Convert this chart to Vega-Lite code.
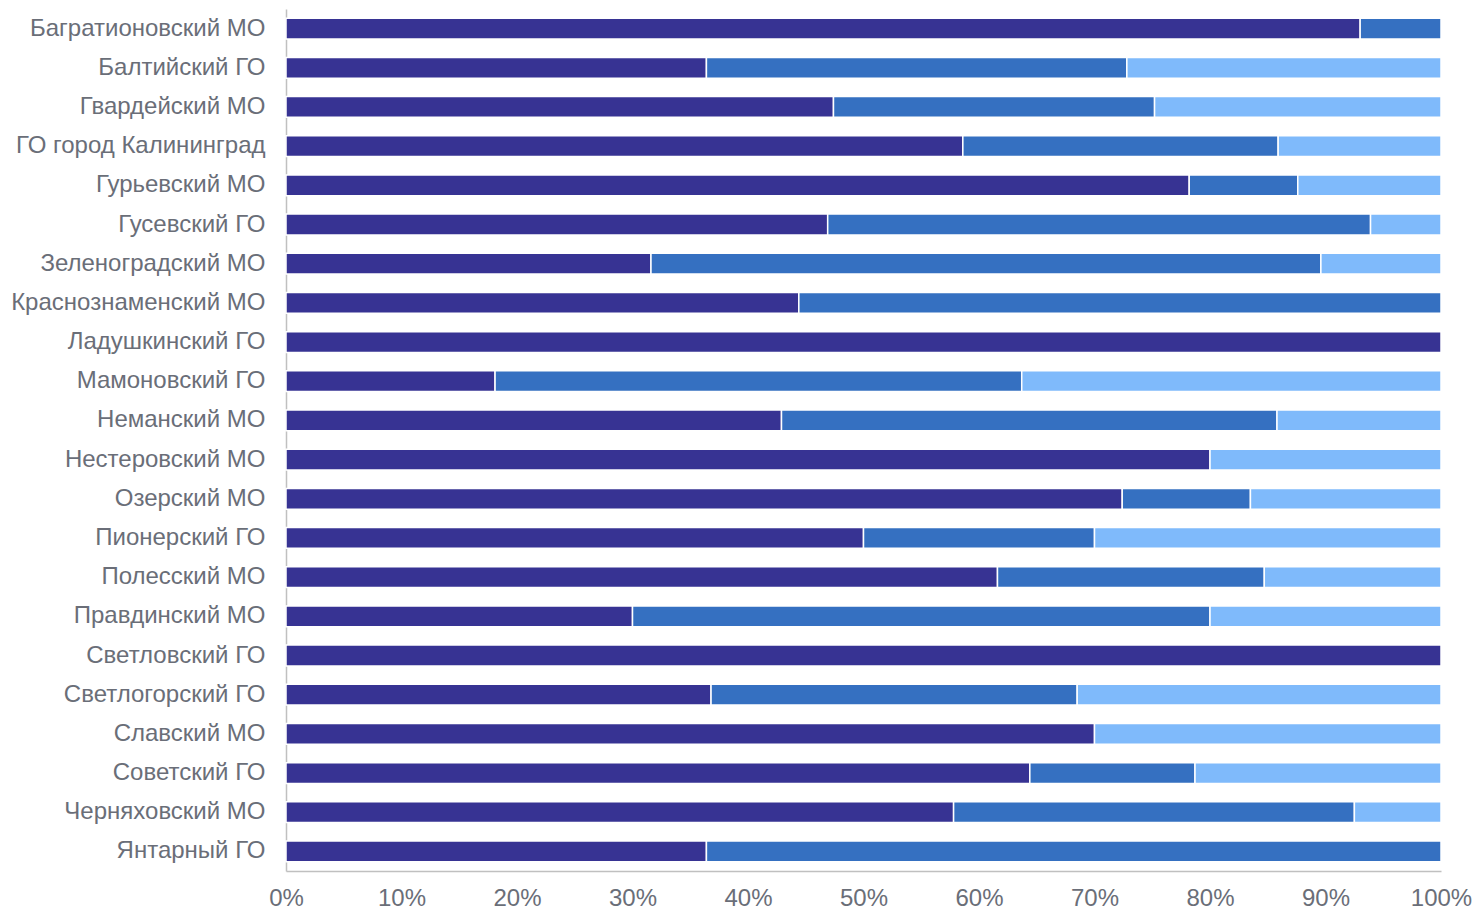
{
  "$schema": "https://vega.github.io/schema/vega-lite/v6.json",
  "width": 1155,
  "height": 862,
  "autosize": {"type": "none"},
  "padding": {"left": 286, "top": 9, "right": 35, "bottom": 38},
  "background": "white",
  "config": {"view": {"stroke": null}, "font": "Liberation Sans"},
  "data": {
    "values": [
      {"mo": "Багратионовский МО", "s": "Группа 1", "o": 1, "v": 93.0},
      {"mo": "Багратионовский МО", "s": "Группа 2", "o": 2, "v": 7.0},
      {"mo": "Балтийский ГО", "s": "Группа 1", "o": 1, "v": 36.4},
      {"mo": "Балтийский ГО", "s": "Группа 2", "o": 2, "v": 36.4},
      {"mo": "Балтийский ГО", "s": "Группа 3", "o": 3, "v": 27.2},
      {"mo": "Гвардейский МО", "s": "Группа 1", "o": 1, "v": 47.4},
      {"mo": "Гвардейский МО", "s": "Группа 2", "o": 2, "v": 27.8},
      {"mo": "Гвардейский МО", "s": "Группа 3", "o": 3, "v": 24.8},
      {"mo": "ГО город Калининград", "s": "Группа 1", "o": 1, "v": 58.6},
      {"mo": "ГО город Калининград", "s": "Группа 2", "o": 2, "v": 27.3},
      {"mo": "ГО город Калининград", "s": "Группа 3", "o": 3, "v": 14.1},
      {"mo": "Гурьевский МО", "s": "Группа 1", "o": 1, "v": 78.2},
      {"mo": "Гурьевский МО", "s": "Группа 2", "o": 2, "v": 9.4},
      {"mo": "Гурьевский МО", "s": "Группа 3", "o": 3, "v": 12.4},
      {"mo": "Гусевский ГО", "s": "Группа 1", "o": 1, "v": 46.9},
      {"mo": "Гусевский ГО", "s": "Группа 2", "o": 2, "v": 47.0},
      {"mo": "Гусевский ГО", "s": "Группа 3", "o": 3, "v": 6.1},
      {"mo": "Зеленоградский МО", "s": "Группа 1", "o": 1, "v": 31.6},
      {"mo": "Зеленоградский МО", "s": "Группа 2", "o": 2, "v": 58.0},
      {"mo": "Зеленоградский МО", "s": "Группа 3", "o": 3, "v": 10.4},
      {"mo": "Краснознаменский МО", "s": "Группа 1", "o": 1, "v": 44.4},
      {"mo": "Краснознаменский МО", "s": "Группа 2", "o": 2, "v": 55.6},
      {"mo": "Ладушкинский ГО", "s": "Группа 1", "o": 1, "v": 100},
      {"mo": "Мамоновский ГО", "s": "Группа 1", "o": 1, "v": 18.1},
      {"mo": "Мамоновский ГО", "s": "Группа 2", "o": 2, "v": 45.6},
      {"mo": "Мамоновский ГО", "s": "Группа 3", "o": 3, "v": 36.3},
      {"mo": "Неманский МО", "s": "Группа 1", "o": 1, "v": 42.9},
      {"mo": "Неманский МО", "s": "Группа 2", "o": 2, "v": 42.9},
      {"mo": "Неманский МО", "s": "Группа 3", "o": 3, "v": 14.2},
      {"mo": "Нестеровский МО", "s": "Группа 1", "o": 1, "v": 80.0},
      {"mo": "Нестеровский МО", "s": "Группа 3", "o": 3, "v": 20.0},
      {"mo": "Озерский МО", "s": "Группа 1", "o": 1, "v": 72.4},
      {"mo": "Озерский МО", "s": "Группа 2", "o": 2, "v": 11.1},
      {"mo": "Озерский МО", "s": "Группа 3", "o": 3, "v": 16.5},
      {"mo": "Пионерский ГО", "s": "Группа 1", "o": 1, "v": 50.0},
      {"mo": "Пионерский ГО", "s": "Группа 2", "o": 2, "v": 20.0},
      {"mo": "Пионерский ГО", "s": "Группа 3", "o": 3, "v": 30.0},
      {"mo": "Полесский МО", "s": "Группа 1", "o": 1, "v": 61.6},
      {"mo": "Полесский МО", "s": "Группа 2", "o": 2, "v": 23.1},
      {"mo": "Полесский МО", "s": "Группа 3", "o": 3, "v": 15.3},
      {"mo": "Правдинский МО", "s": "Группа 1", "o": 1, "v": 30.0},
      {"mo": "Правдинский МО", "s": "Группа 2", "o": 2, "v": 50.0},
      {"mo": "Правдинский МО", "s": "Группа 3", "o": 3, "v": 20.0},
      {"mo": "Светловский ГО", "s": "Группа 1", "o": 1, "v": 100},
      {"mo": "Светлогорский ГО", "s": "Группа 1", "o": 1, "v": 36.8},
      {"mo": "Светлогорский ГО", "s": "Группа 2", "o": 2, "v": 31.7},
      {"mo": "Светлогорский ГО", "s": "Группа 3", "o": 3, "v": 31.5},
      {"mo": "Славский МО", "s": "Группа 1", "o": 1, "v": 70.0},
      {"mo": "Славский МО", "s": "Группа 3", "o": 3, "v": 30.0},
      {"mo": "Советский ГО", "s": "Группа 1", "o": 1, "v": 64.4},
      {"mo": "Советский ГО", "s": "Группа 2", "o": 2, "v": 14.3},
      {"mo": "Советский ГО", "s": "Группа 3", "o": 3, "v": 21.3},
      {"mo": "Черняховский МО", "s": "Группа 1", "o": 1, "v": 57.8},
      {"mo": "Черняховский МО", "s": "Группа 2", "o": 2, "v": 34.7},
      {"mo": "Черняховский МО", "s": "Группа 3", "o": 3, "v": 7.5},
      {"mo": "Янтарный ГО", "s": "Группа 1", "o": 1, "v": 36.4},
      {"mo": "Янтарный ГО", "s": "Группа 2", "o": 2, "v": 63.6}
    ]
  },
  "mark": {"type": "bar", "stroke": "white", "strokeWidth": 1.5},
  "encoding": {
    "y": {
      "field": "mo",
      "type": "nominal",
      "sort": null,
      "scale": {"paddingInner": 0.47, "paddingOuter": 0.235},
      "axis": {
        "title": null,
        "ticks": false,
        "labelFontSize": 24,
        "labelColor": "#6a6e78",
        "labelPadding": 21,
        "labelLimit": 400,
        "domainColor": "#c0c0c0",
        "domainWidth": 1.5
      }
    },
    "x": {
      "field": "v",
      "type": "quantitative",
      "stack": "zero",
      "scale": {"domain": [0, 100], "nice": false},
      "axis": {
        "title": null,
        "values": [0, 10, 20, 30, 40, 50, 60, 70, 80, 90, 100],
        "labelExpr": "datum.value + '%'",
        "ticks": false,
        "grid": false,
        "labelFontSize": 24,
        "labelColor": "#6a6e78",
        "labelPadding": 15,
        "labelFlush": false,
        "domainColor": "#c0c0c0",
        "domainWidth": 1.5
      }
    },
    "color": {
      "field": "s",
      "type": "nominal",
      "scale": {"domain": ["Группа 1", "Группа 2", "Группа 3"], "range": ["#373393", "#3570c1", "#7fbafb"]},
      "legend": null
    },
    "order": {"field": "o", "type": "quantitative"}
  }
}
